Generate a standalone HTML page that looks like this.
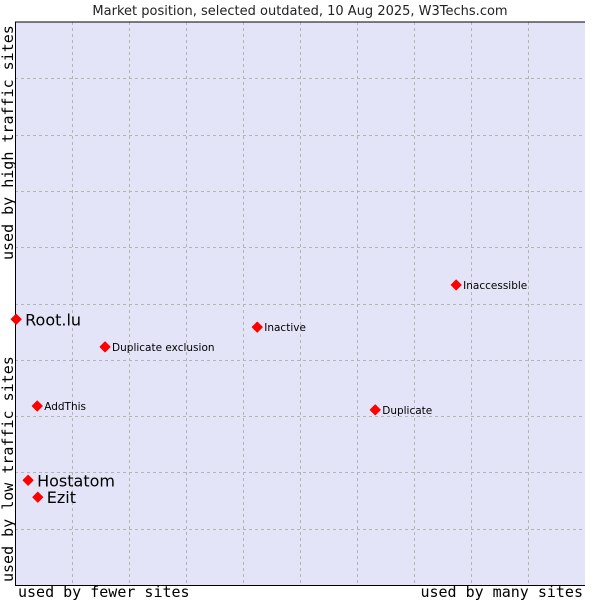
<!DOCTYPE html>
<html><head><meta charset="utf-8"><style>
body{margin:0;background:#fff;}
svg{display:block;font-family:"DejaVu Sans","Liberation Sans",sans-serif;}
</style></head><body>
<svg id="c" width="600" height="600">
<text x="300" y="15" text-anchor="middle" font-size="13" fill="#222">Market position, selected outdated, 10 Aug 2025, W3Techs.com</text>
<rect x="15" y="22" width="570" height="563" fill="#e3e4f7"/>
<g id="grid"></g>
<line x1="15" y1="22" x2="585" y2="22" stroke="#000"/>
<line x1="15.5" y1="22" x2="15.5" y2="585" stroke="#000"/>
<line x1="15" y1="585.5" x2="585" y2="585.5" stroke="#000"/>
<text x="18" y="597" font-family="DejaVu Sans Mono,Liberation Mono,monospace" font-size="15" fill="#000">used by fewer sites</text>
<text x="583" y="597" text-anchor="end" font-family="DejaVu Sans Mono,Liberation Mono,monospace" font-size="15" fill="#000">used by many sites</text>
<text transform="translate(13,582) rotate(-90)" font-family="DejaVu Sans Mono,Liberation Mono,monospace" font-size="15" fill="#000">used by low traffic sites</text>
<text transform="translate(13,260) rotate(-90)" font-family="DejaVu Sans Mono,Liberation Mono,monospace" font-size="15" fill="#000">used by high traffic sites</text>
<g id="pts"></g>
</svg>
<script>
const names=["Root.lu","Hostatom","Ezit","AddThis","Duplicate exclusion","Inactive","Inaccessible","Duplicate"];
const xVals=[0.2,2.3,4.0,3.9,15.8,42.5,77.4,63.2];
const yVals=[47.2,18.6,15.6,31.8,42.3,45.8,53.3,31.1];
const big=[true,true,true,false,false,false,false,false];
const X0=15,X1=585,Y0=585,Y1=22;
const sx=v=>X0+v/100*(X1-X0);
const sy=v=>Y0-v/100*(Y0-Y1);
const NS="http://www.w3.org/2000/svg";
const grid=document.getElementById('grid');
for(let i=1;i<10;i++){
 const l=document.createElementNS(NS,'line');
 const x=Math.round(sx(i*10))+0.5;
 l.setAttribute('x1',x);l.setAttribute('x2',x);l.setAttribute('y1',Y1);l.setAttribute('y2',Y0);
 l.setAttribute('stroke','#b4b4b4');l.setAttribute('stroke-dasharray','3,3');
 
 
 grid.appendChild(l);
 const h=document.createElementNS(NS,'line');
 const y=Math.round(sy(i*10))+0.5;
 h.setAttribute('x1',X0);h.setAttribute('x2',X1);h.setAttribute('y1',y);h.setAttribute('y2',y);
 h.setAttribute('stroke','#b4b4b4');h.setAttribute('stroke-dasharray','3,3');
 
 
 grid.appendChild(h);
}
const pts=document.getElementById('pts');
names.forEach((n,i)=>{
 const x=sx(xVals[i]),y=sy(yVals[i]);
 const p=document.createElementNS(NS,'polygon');
 p.setAttribute('points',`${x},${y-5} ${x+5},${y} ${x},${y+5} ${x-5},${y}`);
 p.setAttribute('fill','#f00');p.setAttribute('stroke','#f00');p.setAttribute('stroke-width','1');p.setAttribute('stroke-linejoin','round');
 
 
 pts.appendChild(p);
 const t=document.createElementNS(NS,'text');
 t.setAttribute('x',x+(big[i]?9:7));t.setAttribute('y',y+(big[i]?6:4));
 t.setAttribute('font-size',big[i]?16:10.5);t.setAttribute('fill','#000');
 t.textContent=n;
 
 
 pts.appendChild(t);
});
</script>
</body></html>
